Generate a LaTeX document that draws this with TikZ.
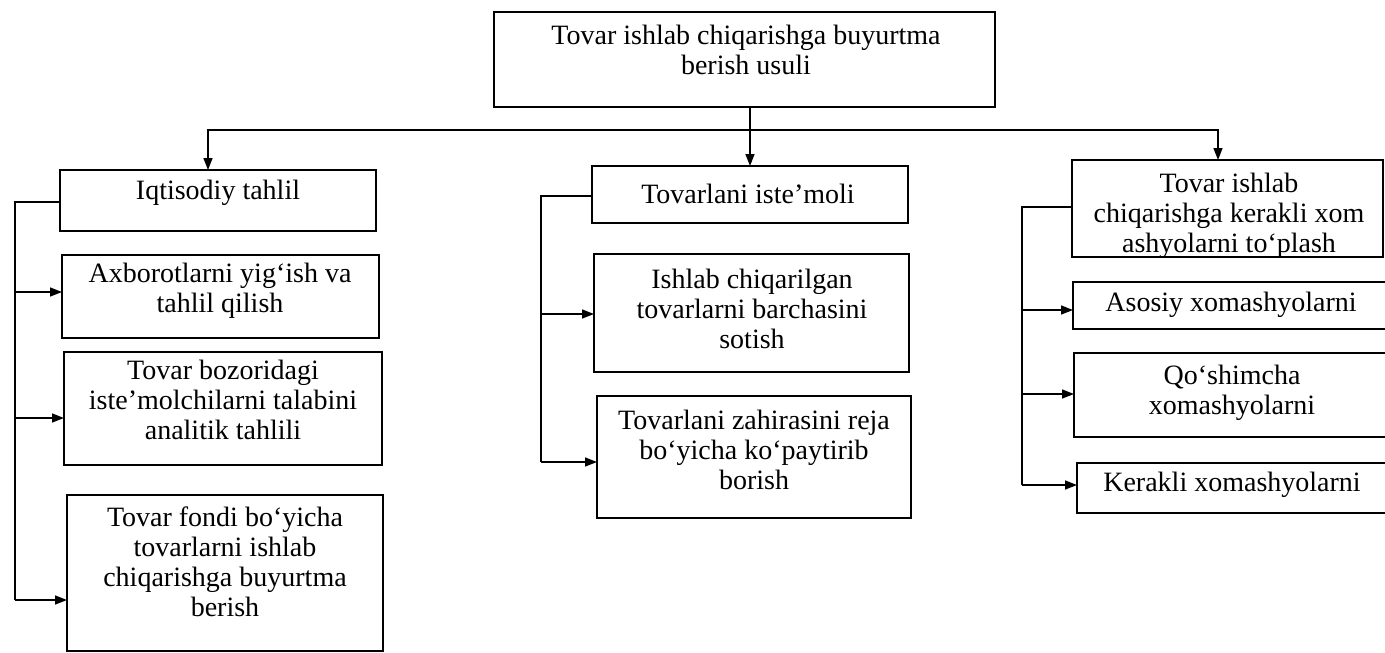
\documentclass[tikz,border=0pt]{standalone}
\usepackage{fontspec}
\setmainfont{Liberation Serif}
\usetikzlibrary{arrows.meta,calc}
\begin{document}
\begin{tikzpicture}[x=1pt,y=-1pt,
  box/.style={draw,line width=1.5pt,inner sep=0pt,outer sep=0pt},
  lbl/.style={align=center,inner sep=0pt,font=\fontsize{28}{30}\selectfont},
  conn/.style={line width=1.5pt},
  arr/.style={conn,-{Triangle[length=12pt,width=9pt]}}]
\useasboundingbox (0,0) rectangle (1385,653);
% boxes
\node[box,minimum width=501pt,minimum height=95pt] (top) at (744.5,59.5) {};
\node[box,minimum width=316pt,minimum height=61pt] (L1) at (218,200.5) {};
\node[box,minimum width=317pt,minimum height=83pt] (L2) at (220.5,296.5) {};
\node[box,minimum width=318pt,minimum height=113pt] (L3) at (223,408.5) {};
\node[box,minimum width=316pt,minimum height=156pt] (L4) at (225,573) {};
\node[box,minimum width=316pt,minimum height=57pt] (M1) at (750,194.5) {};
\node[box,minimum width=315pt,minimum height=118pt] (M2) at (751.5,313) {};
\node[box,minimum width=314pt,minimum height=122pt] (M3) at (754,457) {};
\node[box,minimum width=311pt,minimum height=97pt] (R1) at (1227.5,208.5) {};
\node[box,minimum width=327pt,minimum height=47pt] (R2) at (1236.5,305.5) {};
\node[box,minimum width=326pt,minimum height=84pt] (R3) at (1237,395) {};
\node[box,minimum width=323pt,minimum height=50pt] (R4) at (1238.5,488) {};
% labels
\node[lbl] (tTop) at (746,50) {Tovar ishlab chiqarishga buyurtma\\berish usuli};
\node[lbl] (tL1) at (218,193) {Iqtisodiy tahlil};
\node[lbl] (tL2) at (220,291) {Axborotlarni yig‘ish va\\tahlil qilish};
\node[lbl] (tL3) at (223,400) {Tovar bozoridagi\\iste’molchilarni talabini\\analitik tahlili};
\node[lbl] (tL4) at (225,562) {Tovar fondi bo‘yicha\\tovarlarni ishlab\\chiqarishga buyurtma\\berish};
\node[lbl] (tM1) at (748,194) {Tovarlani iste’moli};
\node[lbl] (tM2) at (752,309) {Ishlab chiqarilgan\\tovarlarni barchasini\\sotish};
\node[lbl] (tM3) at (754,450) {Tovarlani zahirasini reja\\bo‘yicha ko‘paytirib\\borish};
\begin{scope}
\clip (R1.north west) rectangle (R1.south east);
\node[lbl] (tR1) at (1229,216) {Tovar ishlab\\chiqarishga kerakli xom\\ashyolarni to‘plash};
\end{scope}
\node[lbl] (tR2) at (1231,305) {Asosiy xomashyolarni};
\node[lbl] (tR3) at (1232,393) {Qo‘shimcha\\xomashyolarni};
\node[lbl] (tR4) at (1232,485) {Kerakli xomashyolarni};
% top connectors
\coordinate (jl) at (208,130);
\coordinate (jr) at (1218,130);
\draw[arr] (top.south -| M1.north) -- (M1.north);
\draw[arr] (jl -| jr) -- (jl) -- (jl |- L1.north);
\draw[arr] (jl) -- (jr) -- (jr |- R1.north);
% left column
\coordinate (lv) at (15,202);
\coordinate (lb) at (15,600);
\draw[conn] (L1.west |- lv) -- (lv) -- (lb);
\coordinate (y292) at (0,292);
\coordinate (y418) at (0,418);
\draw[arr] (lv |- y292) -- (L2.west |- y292);
\draw[arr] (lv |- y418) -- (L3.west |- y418);
\draw[arr] (lb) -- (L4.west |- lb);
% middle column
\coordinate (mv) at (541,196);
\coordinate (mb) at (541,462);
\coordinate (y314) at (0,314);
\draw[conn] (M1.west |- mv) -- (mv) -- (mb);
\draw[arr] (mv |- y314) -- (M2.west |- y314);
\draw[arr] (mb) -- (M3.west |- mb);
% right column
\coordinate (rv) at (1022,207);
\coordinate (rb) at (1022,485);
\coordinate (y310) at (0,310);
\coordinate (y394) at (0,394);
\draw[conn] (R1.west |- rv) -- (rv) -- (rb);
\draw[arr] (rv |- y310) -- (R2.west |- y310);
\draw[arr] (rv |- y394) -- (R3.west |- y394);
\draw[arr] (rb) -- (R4.west |- rb);
\end{tikzpicture}
\end{document}
